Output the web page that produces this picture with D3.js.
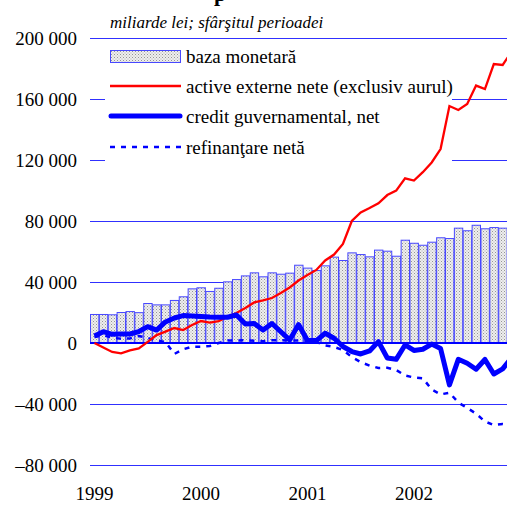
<!DOCTYPE html>
<html>
<head>
<meta charset="utf-8">
<script src="https://cdn.jsdelivr.net/npm/d3@7"></script>
<style>
  body { margin: 0; background: #fff; }
  text { font-family: "Liberation Serif", "Times New Roman", serif; }
</style>
</head>
<body>
<div id="chart"></div>
<script>
// date: lunar, ian. 1999 - dec. 2002 (miliarde lei)
const years = ["1999", "2000", "2001", "2002"];
const months = years.flatMap((y) => d3.range(1, 13).map((m) => y + "-" + m));

const bazaMonetara = [18700, 18700, 18500, 20000, 20600, 19900, 25900, 25000, 25000, 27900, 30300, 35500,
  36200, 33800, 35900, 40100, 41600, 44000, 46000, 43400, 46000, 45100, 45800, 51000,
  49100, 47500, 50600, 56300, 54100, 59100, 58000, 56500, 60900, 60200, 56900, 67400,
  65400, 64100, 66100, 69000, 68500, 75300, 73600, 77200, 74900, 75700, 75300, 76000];

const activeExterne = [0, -3000, -5900, -6800, -4900, -3600, 700, 5200, 7500, 9800, 8500, 11800,
  14400, 13400, 14400, 17200, 19700, 23000, 26600, 27900, 29500, 32800, 36400, 41000,
  44600, 47900, 54100, 58000, 64900, 80000, 85600, 88500, 91600, 97000, 99900, 108000,
  106500, 112000, 118400, 127200, 155400, 152800, 156700, 168800, 166500, 182900, 182300, 191000];

const creditGuv = [4600, 7400, 5700, 5900, 5900, 7500, 10700, 8500, 13800, 16400, 18000, 17700,
  17400, 17000, 16900, 16900, 18400, 12500, 12800, 8500, 12800, 7400, 2000, 12100,
  1600, 1600, 6400, 3100, -2300, -5600, -7200, -5200, 900, -9800, -10700, -1300,
  -4900, -4100, -700, -3600, -27500, -10700, -13300, -17200, -10800, -20300, -17000, -9800];

const refinantare = [4000, 5000, 3500, 2800, 3000, 4600, 3300, 1500, 700, -7200, -4100, -2400,
  -2400, -2000, 0, 1600, 1600, 1800, 1500, 1200, 1800, 1800, 1600, 1600,
  1000, 700, -1600, -2600, -4600, -9200, -12500, -14800, -16400, -16200, -17700, -21300,
  -22600, -23100, -30500, -33700, -32600, -39000, -42600, -46300, -51500, -53800, -53100, -54000];

const yTicks = [200000, 160000, 120000, 80000, 40000, 0, -40000, -80000];
const legendLabels = ["baza monetară", "active externe nete (exclusiv aurul)", "credit guvernamental, net", "refinanţare netă"];

const width = 507,
  height = 505;

const svg = d3.select("#chart").append("svg").attr("width", width).attr("height", height);

// scale-uri (graficul iese putin in dreapta imaginii)
const x = d3.scaleBand().domain(months).range([90, 516]).padding(0);
const y = d3.scaleLinear().domain([-80000, 200000]).range([465, 38]);
const cx = (i) => x(months[i]) + x.bandwidth() / 2;

// textura pentru coloane
const pat = svg.append("defs").append("pattern")
  .attr("id", "dots").attr("width", 3).attr("height", 3).attr("patternUnits", "userSpaceOnUse");
pat.append("rect").attr("width", 3).attr("height", 3).attr("fill", "#eeeeee");
pat.append("rect").attr("width", 1).attr("height", 1).attr("fill", "#959595");
pat.append("rect").attr("x", 1.5).attr("y", 1.5).attr("width", 1).attr("height", 1).attr("fill", "#b0b0b0");

// titlu taiat sus
svg.append("text").attr("x", 214).attr("y", 1).attr("font-size", 22).attr("font-weight", "bold").text("p");

svg.append("text")
  .attr("x", 110).attr("y", 28)
  .attr("font-size", 17).attr("font-style", "italic")
  .text("miliarde lei; sfârşitul perioadei");

// grila + etichete axa y
svg.selectAll(".grid").data(yTicks).enter().append("line")
  .attr("x1", 90).attr("x2", width)
  .attr("y1", (d) => Math.round(y(d)) + 0.5).attr("y2", (d) => Math.round(y(d)) + 0.5)
  .attr("stroke", "#3030ff").attr("stroke-width", 1);

svg.selectAll(".ylab").data(yTicks).enter().append("text")
  .attr("x", 77).attr("y", (d) => y(d)).attr("dy", "0.35em")
  .attr("text-anchor", "end").attr("font-size", 19)
  .text((d) => (d < 0 ? "–" : "") + d3.format(",")(Math.abs(d)).replace(/,/g, " "));

// etichete ani
svg.selectAll(".xlab").data(years).enter().append("text")
  .attr("x", (d, i) => cx(i * 12)).attr("y", 500)
  .attr("text-anchor", "middle").attr("font-size", 19)
  .text((d) => d);

// fundal alb pentru legenda
svg.append("rect").attr("x", 105).attr("y", 42).attr("width", 347).attr("height", 127).attr("fill", "#fff");

// coloane baza monetara
svg.selectAll(".bar").data(bazaMonetara).enter().append("rect")
  .attr("x", (d, i) => x(months[i]) + 0.5)
  .attr("y", (d) => y(d))
  .attr("width", x.bandwidth() - 0.5)
  .attr("height", (d) => y(0) - y(d))
  .attr("fill", "url(#dots)")
  .attr("stroke", "#4848ff").attr("stroke-width", 1);

// linia zero
svg.append("line").attr("x1", 90).attr("x2", width).attr("y1", y(0)).attr("y2", y(0))
  .attr("stroke", "#0000ff").attr("stroke-width", 2);

const line = d3.line().x((d, i) => cx(i)).y((d) => y(d));

svg.append("path").datum(refinantare).attr("d", line)
  .attr("fill", "none").attr("stroke", "#0000ff").attr("stroke-width", 2.5).attr("stroke-dasharray", "5,6");

svg.append("path").datum(activeExterne).attr("d", line)
  .attr("fill", "none").attr("stroke", "#ff0000").attr("stroke-width", 2.3);

svg.append("path").datum(creditGuv).attr("d", line)
  .attr("fill", "none").attr("stroke", "#0000ff").attr("stroke-width", 5).attr("stroke-linejoin", "round");

// legenda
const legY = [56, 86, 116, 147];
svg.append("rect").attr("x", 110.5).attr("y", 50.5).attr("width", 70).attr("height", 12)
  .attr("fill", "url(#dots)").attr("stroke", "#4848ff").attr("stroke-width", 1);
svg.append("line").attr("x1", 110).attr("x2", 181).attr("y1", legY[1]).attr("y2", legY[1])
  .attr("stroke", "#ff0000").attr("stroke-width", 2.3);
svg.append("line").attr("x1", 111).attr("x2", 180).attr("y1", legY[2]).attr("y2", legY[2])
  .attr("stroke", "#0000ff").attr("stroke-width", 5).attr("stroke-linecap", "round");
svg.append("line").attr("x1", 110).attr("x2", 181).attr("y1", legY[3]).attr("y2", legY[3])
  .attr("stroke", "#0000ff").attr("stroke-width", 2.5).attr("stroke-dasharray", "5,6");

svg.selectAll(".leg").data(legendLabels).enter().append("text")
  .attr("x", 186).attr("y", (d, i) => legY[i]).attr("dy", "0.35em")
  .attr("font-size", 19)
  .text((d) => d);
</script>
</body>
</html>
